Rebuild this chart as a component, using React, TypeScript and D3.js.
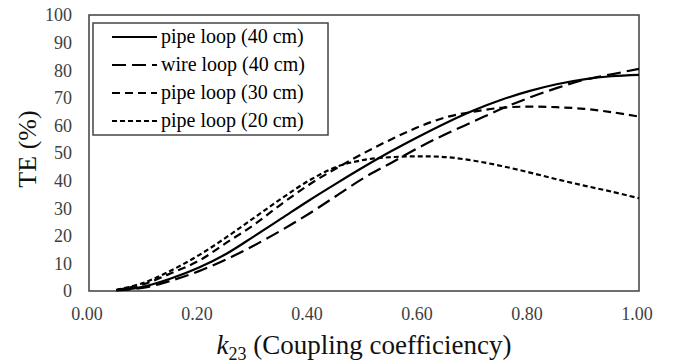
import React, { useEffect, useRef } from "react";
import { select, scaleLinear, line, curveCatmullRom, format } from "d3";

// coupling coefficient k23 sampled along the curves
const kValues = [
  0.05, 0.1, 0.15, 0.2, 0.25, 0.3, 0.35, 0.4, 0.45, 0.5, 0.55, 0.6, 0.65, 0.7,
  0.75, 0.8, 0.85, 0.9, 0.95, 1.0,
];
// TE (%) per series
const pipe40 = [
  0.3, 1.6, 4.6, 8.5, 13.5, 19.8, 26.3, 32.8, 39, 45, 50.7, 56, 61, 65.5, 69.3,
  72.4, 74.9, 76.7, 77.8, 78.3,
];
const wire40 = [
  0.2, 1.2, 3.8, 7.2, 11.5, 16.5, 22, 28, 34.5, 41, 46.5, 52, 57, 61.5, 66, 70,
  73.5, 76.5, 78.5, 80.5,
];
const pipe30 = [
  0.3, 2.5, 6.5, 11, 17.5, 24, 31.5, 38.5, 44.5, 50, 55, 59.5, 63, 65, 66.4,
  66.8, 66.6, 66, 64.8, 63.2,
];
const pipe20 = [
  0.4, 3, 7.5, 13, 19.5, 26.5, 33.5, 40, 45, 47.5, 48.5, 48.8, 48.5, 47.2,
  45.3, 43, 40.5, 38.2, 36, 33.6,
];

const seriesNames = [
  "pipe loop (40 cm)",
  "wire loop (40 cm)",
  "pipe loop (30 cm)",
  "pipe loop (20 cm)",
];
const xTicks = [0, 0.2, 0.4, 0.6, 0.8, 1.0];
const yTicks = [0, 10, 20, 30, 40, 50, 60, 70, 80, 90, 100];

const dashes = [null, "14,6", "8,5", "5,3"];
const font = "Liberation Serif, DejaVu Serif, serif";

function CouplingChart() {
  const svgRef = useRef(null);

  useEffect(() => {
    const svg = select(svgRef.current);
    svg.selectAll("*").remove();

    const xScale = scaleLinear().domain([0, 1]).range([89, 639]);
    const yScale = scaleLinear().domain([0, 100]).range([291, 15]);

    const series = [pipe40, wire40, pipe30, pipe20].map((values, i) => ({
      name: seriesNames[i],
      dash: dashes[i],
      points: values.map((v, j) => [kValues[j], v]),
    }));

    // plot frame
    svg
      .append("rect")
      .attr("x", xScale(0))
      .attr("y", yScale(100))
      .attr("width", xScale(1) - xScale(0))
      .attr("height", yScale(0) - yScale(100))
      .attr("fill", "none")
      .attr("stroke", "#4a4a4a")
      .attr("stroke-width", 1.6);

    // y tick labels
    svg
      .selectAll(".ytick")
      .data(yTicks)
      .join("text")
      .attr("class", "ytick")
      .attr("x", 72)
      .attr("y", (d) => yScale(d))
      .attr("dy", "0.35em")
      .attr("text-anchor", "end")
      .attr("font-family", font)
      .attr("font-size", 18)
      .attr("fill", "#404040")
      .text((d) => d);

    // x tick labels
    svg
      .selectAll(".xtick")
      .data(xTicks)
      .join("text")
      .attr("class", "xtick")
      .attr("x", (d) => xScale(d) - 2)
      .attr("y", 320)
      .attr("text-anchor", "middle")
      .attr("font-family", font)
      .attr("font-size", 18)
      .attr("fill", "#404040")
      .text((d) => format(".2f")(d));

    const lineGen = line()
      .x((d) => xScale(d[0]))
      .y((d) => yScale(d[1]))
      .curve(curveCatmullRom.alpha(0.5));

    svg
      .selectAll(".series")
      .data(series)
      .join("path")
      .attr("class", "series")
      .attr("d", (s) => lineGen(s.points))
      .attr("fill", "none")
      .attr("stroke", "#000")
      .attr("stroke-width", 2.2)
      .attr("stroke-dasharray", (s) => s.dash);

    // legend
    const legend = svg.append("g");
    legend
      .append("rect")
      .attr("x", 93)
      .attr("y", 23)
      .attr("width", 235)
      .attr("height", 112)
      .attr("fill", "#fff")
      .attr("stroke", "#444")
      .attr("stroke-width", 1.5);
    const rows = legend
      .selectAll(".row")
      .data(series)
      .join("g")
      .attr("class", "row")
      .attr("transform", (d, i) => `translate(0,${37 + i * 28})`);
    rows
      .append("line")
      .attr("x1", 112)
      .attr("x2", 157)
      .attr("stroke", "#000")
      .attr("stroke-width", 2.2)
      .attr("stroke-dasharray", (s) => s.dash);
    rows
      .append("text")
      .attr("x", 161)
      .attr("dy", "0.32em")
      .attr("font-family", font)
      .attr("font-size", 20)
      .attr("fill", "#000")
      .text((s) => s.name);

    // axis titles
    svg
      .append("text")
      .attr("transform", "translate(36,149) rotate(-90)")
      .attr("text-anchor", "middle")
      .attr("font-family", font)
      .attr("font-size", 26)
      .attr("fill", "#111")
      .text("TE (%)");

    const xTitle = svg
      .append("text")
      .attr("x", 364)
      .attr("y", 354)
      .attr("text-anchor", "middle")
      .attr("font-family", font)
      .attr("font-size", 27)
      .attr("fill", "#111");
    xTitle.append("tspan").attr("font-style", "italic").text("k");
    xTitle.append("tspan").attr("font-size", 18).attr("dy", 6).text("23");
    xTitle.append("tspan").attr("dy", -6).text(" (Coupling coefficiency)");
  }, []);

  return (
    <svg
      ref={svgRef}
      width={682}
      height={363}
      style={{ position: "absolute", left: 0, top: 0, background: "#fff" }}
    />
  );
}

export default function App() {
  return <CouplingChart />;
}
